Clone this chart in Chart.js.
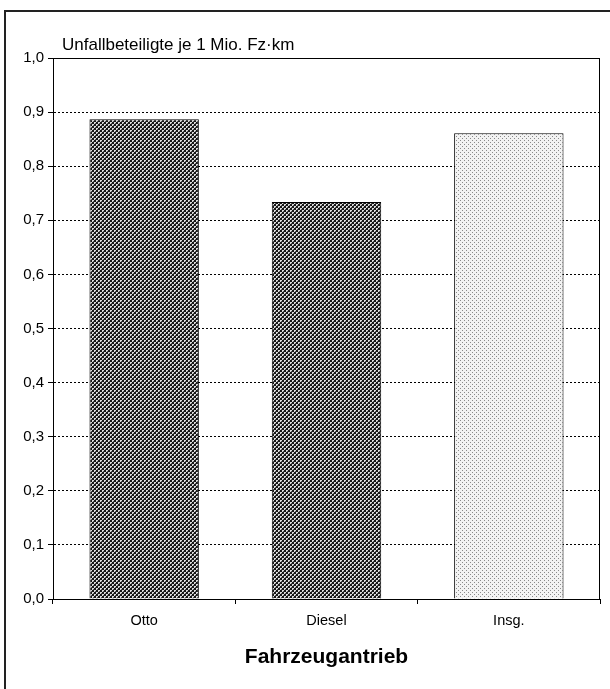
<!DOCTYPE html>
<html>
<head>
<meta charset="utf-8">
<script src="https://cdn.jsdelivr.net/npm/chart.js@4/dist/chart.umd.min.js"></script>
<style>
  html, body { margin: 0; padding: 0; background: #fff; }
  #wrap { width: 610px; height: 689px; position: relative; }
</style>
</head>
<body>
<div id="wrap"><canvas id="c" width="610" height="689"></canvas></div>
<script>
// Unfallbeteiligte je 1 Mio. Fahrzeug-km nach Fahrzeugantrieb
const categories = ['Otto', 'Diesel', 'Insg.'];
const values = [0.887, 0.734, 0.861];
const yTicks = [0, 0.1, 0.2, 0.3, 0.4, 0.5, 0.6, 0.7, 0.8, 0.9, 1.0];
const chartTitle = 'Unfallbeteiligte je 1 Mio. Fz·km';
const axisTitle = 'Fahrzeugantrieb';

const FONT = '"Liberation Sans", Arial, sans-serif';

// Hatch fills for the bars
function makePattern(draw) {
  const t = document.createElement('canvas');
  t.width = 4; t.height = 4;
  const g = t.getContext('2d');
  draw(g);
  return g.createPattern(t, 'repeat');
}
const ctx = document.getElementById('c').getContext('2d');
const darkCheck = makePattern(g => {
  g.fillStyle = '#161616';
  g.fillRect(0, 0, 4, 4);
  g.fillStyle = '#dcdcdc';
  g.fillRect(0, 0, 2, 2);
  g.fillRect(2, 2, 2, 2);
  g.fillStyle = '#555';
  g.fillRect(1, 1, 1, 1);
  g.fillRect(3, 3, 1, 1);
});
const lightDots = makePattern(g => {
  g.fillStyle = '#f3f3f3';
  g.fillRect(0, 0, 4, 4);
  g.fillStyle = '#8a8a8a';
  g.fillRect(0, 0, 1, 1);
  g.fillRect(2, 2, 1, 1);
});
const fills = [darkCheck, darkCheck, lightDots];

// Outer frame, plot box and the chart heading
const decorations = {
  id: 'decorations',
  beforeDraw(chart) {
    const c = chart.ctx;
    c.save();
    c.fillStyle = '#fff';
    c.fillRect(0, 0, chart.width, chart.height);
    c.strokeStyle = '#222';
    c.lineWidth = 2;
    c.beginPath();
    c.moveTo(5, chart.height);
    c.lineTo(5, 11);
    c.lineTo(chart.width, 11);
    c.stroke();
    c.restore();
  },
  afterDraw(chart) {
    const c = chart.ctx;
    const a = chart.chartArea;
    c.save();
    c.strokeStyle = '#000';
    c.lineWidth = 1;
    const top = Math.round(a.top) + 0.5;
    const right = Math.round(a.right) - 0.5;
    c.beginPath();
    c.moveTo(Math.round(a.left) + 0.5, top);
    c.lineTo(right, top);
    c.lineTo(right, Math.round(a.bottom) + 0.5);
    c.stroke();
    c.fillStyle = '#000';
    c.font = '17px ' + FONT;
    c.textBaseline = 'alphabetic';
    c.textAlign = 'left';
    c.fillText(chartTitle, 62, 50);
    c.restore();
  }
};

new Chart(ctx, {
  type: 'bar',
  data: {
    labels: categories,
    datasets: [{
      data: values,
      backgroundColor: fills,
      borderColor: '#000',
      borderWidth: 1,
      categoryPercentage: 1.0,
      barPercentage: 0.6
    }]
  },
  options: {
    responsive: false,
    animation: false,
    devicePixelRatio: 1,
    layout: { padding: { left: 0, right: 10, top: 58, bottom: 0 } },
    plugins: {
      legend: { display: false },
      tooltip: { enabled: false },
      title: { display: false }
    },
    scales: {
      x: {
        afterFit(scale) { scale.height = 90; },
        grid: {
          display: true,
          drawOnChartArea: false,
          drawTicks: true,
          offset: true,
          tickLength: 5,
          color: '#000',
          tickColor: '#000'
        },
        border: { display: true, color: '#000', width: 1 },
        ticks: {
          color: '#000',
          padding: 8,
          font: { family: FONT, size: 14.5 }
        },
        title: {
          display: true,
          text: axisTitle,
          color: '#000',
          font: { family: FONT, size: 21, weight: 'bold' },
          padding: { top: 0, bottom: 19 }
        }
      },
      y: {
        min: 0,
        max: 1,
        afterFit(scale) { scale.width = 53; },
        afterBuildTicks(scale) { scale.ticks = yTicks.map(v => ({ value: v })); },
        grid: {
          display: true,
          color: '#000',
          lineWidth: 1,
          drawTicks: true,
          tickLength: 5,
          tickColor: '#000',
          tickBorderDash: []
        },
        border: { display: true, color: '#000', width: 1, dash: [2, 2] },
        ticks: {
          color: '#000',
          padding: 4,
          font: { family: FONT, size: 15 },
          callback: v => Number(v).toFixed(1).replace('.', ',')
        }
      }
    }
  },
  plugins: [decorations]
});
</script>
</body>
</html>
